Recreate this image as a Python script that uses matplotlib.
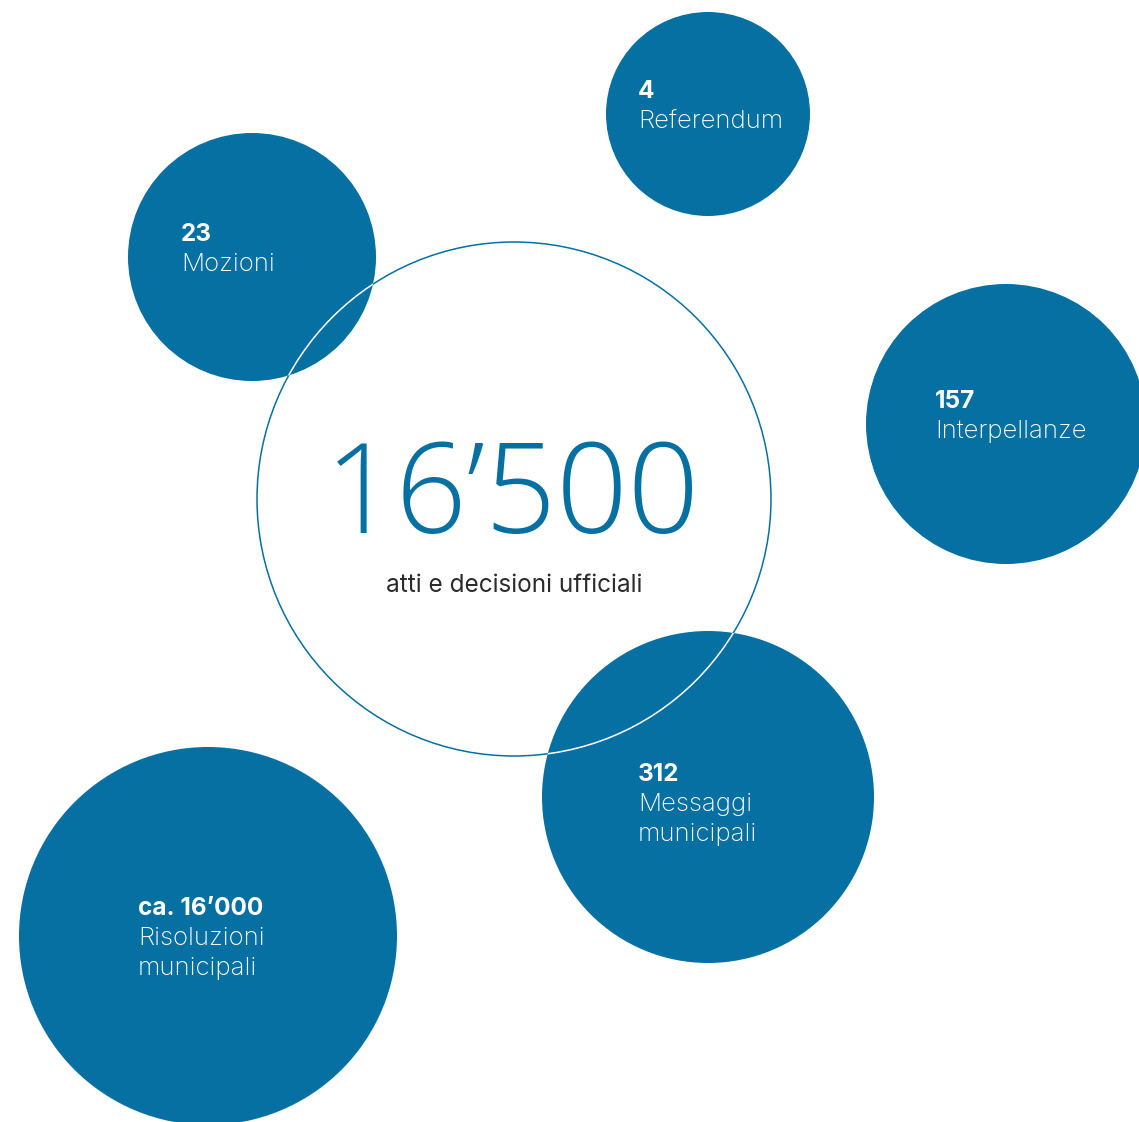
import matplotlib
matplotlib.use("Agg")
import matplotlib.pyplot as plt
from matplotlib.patches import Circle

# ---- data ----
values = ["4", "23", "157", "312", "ca. 16\u2019000"]
labels = ["Referendum", "Mozioni", "Interpellanze", "Messaggi\nmunicipali", "Risoluzioni\nmunicipali"]
total_value = "16\u2019500"
total_label = "atti e decisioni ufficiali"

# ---- layout (pixel space) ----
centers = [(708, 114), (252, 257), (1006, 424), (708, 797), (208, 936)]
radii = [102, 124, 140, 166, 189]
text_pos = [(638, 98), (181, 241), (935, 408), (638, 781), (138, 915)]
big_center, big_r = (514, 499), 257

BLUE = "#0670A2"
W, H = 1139, 1122
fig = plt.figure(figsize=(W / 100, H / 100), dpi=100)
ax = fig.add_axes([0, 0, 1, 1])
ax.set_xlim(0, W)
ax.set_ylim(H, 0)
ax.set_aspect("equal")
ax.axis("off")

FAM = ["Inter", "DejaVu Sans"]
FAM_BIG = ["Open Sans", "DejaVu Sans"]

ax.add_patch(Circle(big_center, big_r, fill=False, ec=BLUE, lw=1.1, zorder=1))

for (c, r) in zip(centers, radii):
    blue = Circle(c, r, fc=BLUE, ec="none", zorder=2)
    ax.add_patch(blue)
    wline = Circle(big_center, big_r, fill=False, ec="white", lw=1.1, zorder=3)
    ax.add_patch(wline)
    wline.set_clip_path(blue)

LINE = 30
for v, lab, (x, y) in zip(values, labels, text_pos):
    ax.text(x, y, v, color="white", fontsize=17.5, fontweight="bold", family=FAM,
            ha="left", va="baseline", zorder=4)
    for i, line in enumerate(lab.split("\n")):
        ax.text(x, y + LINE * (i + 1), line, color="white", fontsize=18.5,
                fontweight="light", family=FAM, ha="left", va="baseline", zorder=4)

ax.text(512, 533, total_value, color=BLUE, fontsize=90, fontweight="light",
        family=FAM_BIG, ha="center", va="baseline", zorder=4)
ax.text(514, 592, total_label, color="#2b2b2b", fontsize=17.5, fontweight="normal",
        family=FAM, ha="center", va="baseline", zorder=4)

fig.savefig("out.png", dpi=100, facecolor="white")
